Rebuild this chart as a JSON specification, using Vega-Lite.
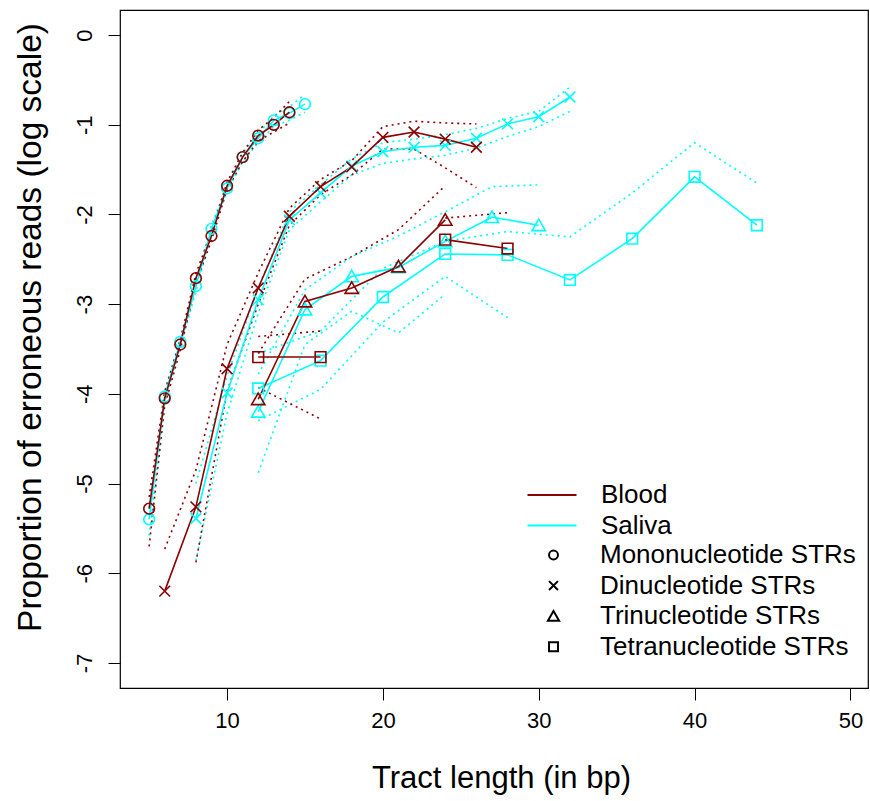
{
  "$schema": "https://vega.github.io/schema/vega-lite/v6.json",
  "width": 748,
  "height": 678,
  "autosize": {"type": "none"},
  "padding": {"left": 120, "top": 10, "right": 2, "bottom": 113},
  "background": "white",
  "data": {"values": [
    {"s":"Saliva","t":"Mononucleotide STRs","g":"a","x":5,"y":-5.40,"lo":-5.58,"hi":-5.28},
    {"s":"Saliva","t":"Mononucleotide STRs","g":"a","x":6,"y":-4.03,"lo":-4.10,"hi":-3.97},
    {"s":"Saliva","t":"Mononucleotide STRs","g":"a","x":7,"y":-3.42,"lo":-3.48,"hi":-3.37},
    {"s":"Saliva","t":"Mononucleotide STRs","g":"a","x":8,"y":-2.80,"lo":-2.86,"hi":-2.75},
    {"s":"Saliva","t":"Mononucleotide STRs","g":"a","x":9,"y":-2.16,"lo":-2.21,"hi":-2.12},
    {"s":"Saliva","t":"Mononucleotide STRs","g":"a","x":10,"y":-1.71,"lo":-1.75,"hi":-1.67},
    {"s":"Saliva","t":"Mononucleotide STRs","g":"a","x":11,"y":-1.36,"lo":-1.41,"hi":-1.32},
    {"s":"Saliva","t":"Mononucleotide STRs","g":"a","x":12,"y":-1.15,"lo":-1.20,"hi":-1.10},
    {"s":"Saliva","t":"Mononucleotide STRs","g":"a","x":13,"y":-0.95,"lo":-1.02,"hi":-0.90},
    {"s":"Saliva","t":"Mononucleotide STRs","g":"a","x":14,"y":-0.87,"lo":-0.95,"hi":-0.80},
    {"s":"Saliva","t":"Mononucleotide STRs","g":"a","x":15,"y":-0.77,"lo":-0.86,"hi":-0.66},
    {"s":"Saliva","t":"Dinucleotide STRs","g":"a","x":8,"y":-5.39,"lo":-5.86,"hi":-5.00},
    {"s":"Saliva","t":"Dinucleotide STRs","g":"a","x":10,"y":-3.99,"lo":-4.22,"hi":-3.80},
    {"s":"Saliva","t":"Dinucleotide STRs","g":"a","x":12,"y":-2.95,"lo":-3.10,"hi":-2.82},
    {"s":"Saliva","t":"Dinucleotide STRs","g":"a","x":14,"y":-2.06,"lo":-2.17,"hi":-1.97},
    {"s":"Saliva","t":"Dinucleotide STRs","g":"a","x":16,"y":-1.76,"lo":-1.86,"hi":-1.67},
    {"s":"Saliva","t":"Dinucleotide STRs","g":"a","x":18,"y":-1.46,"lo":-1.56,"hi":-1.38},
    {"s":"Saliva","t":"Dinucleotide STRs","g":"a","x":20,"y":-1.30,"lo":-1.43,"hi":-1.20},
    {"s":"Saliva","t":"Dinucleotide STRs","g":"a","x":22,"y":-1.25,"lo":-1.38,"hi":-1.16},
    {"s":"Saliva","t":"Dinucleotide STRs","g":"a","x":24,"y":-1.23,"lo":-1.34,"hi":-1.11},
    {"s":"Saliva","t":"Dinucleotide STRs","g":"a","x":26,"y":-1.15,"lo":-1.26,"hi":-1.04},
    {"s":"Saliva","t":"Dinucleotide STRs","g":"a","x":28,"y":-0.99,"lo":-1.13,"hi":-0.93},
    {"s":"Saliva","t":"Dinucleotide STRs","g":"a","x":30,"y":-0.91,"lo":-1.02,"hi":-0.85},
    {"s":"Saliva","t":"Dinucleotide STRs","g":"a","x":32,"y":-0.69,"lo":-0.85,"hi":-0.58},
    {"s":"Saliva","t":"Trinucleotide STRs","g":"a","x":12,"y":-4.20,"lo":-4.88,"hi":-3.78},
    {"s":"Saliva","t":"Trinucleotide STRs","g":"a","x":15,"y":-3.06,"lo":-3.45,"hi":-2.84},
    {"s":"Saliva","t":"Trinucleotide STRs","g":"a","x":18,"y":-2.69,"lo":-3.08,"hi":-2.47},
    {"s":"Saliva","t":"Trinucleotide STRs","g":"a","x":21,"y":-2.59,"lo":-3.32,"hi":-2.24},
    {"s":"Saliva","t":"Trinucleotide STRs","g":"a","x":24,"y":-2.30,"lo":-2.89,"hi":-1.97},
    {"s":"Saliva","t":"Trinucleotide STRs","g":"a","x":27,"y":-2.03,"lo":null,"hi":-1.69},
    {"s":"Saliva","t":"Trinucleotide STRs","g":"a","x":30,"y":-2.12,"lo":null,"hi":-1.67},
    {"s":"Saliva","t":"Tetranucleotide STRs","g":"a","x":12,"y":-3.94,"lo":-4.30,"hi":-3.55},
    {"s":"Saliva","t":"Tetranucleotide STRs","g":"a","x":16,"y":-3.63,"lo":-3.95,"hi":-3.30},
    {"s":"Saliva","t":"Tetranucleotide STRs","g":"a","x":20,"y":-2.92,"lo":-3.20,"hi":-2.60},
    {"s":"Saliva","t":"Tetranucleotide STRs","g":"a","x":24,"y":-2.44,"lo":-2.69,"hi":-2.30},
    {"s":"Saliva","t":"Tetranucleotide STRs","g":"a","x":28,"y":-2.45,"lo":-3.15,"hi":-2.19},
    {"s":"Saliva","t":"Tetranucleotide STRs","g":"a","x":32,"y":-2.73,"lo":null,"hi":-2.25},
    {"s":"Saliva","t":"Tetranucleotide STRs","g":"a","x":36,"y":-2.27,"lo":null,"hi":-1.76},
    {"s":"Saliva","t":"Tetranucleotide STRs","g":"a","x":40,"y":-1.58,"lo":null,"hi":-1.20},
    {"s":"Saliva","t":"Tetranucleotide STRs","g":"a","x":44,"y":-2.12,"lo":null,"hi":-1.65},
    {"s":"Blood","t":"Mononucleotide STRs","g":"a","x":5,"y":-5.28,"lo":-5.70,"hi":-5.15},
    {"s":"Blood","t":"Mononucleotide STRs","g":"a","x":6,"y":-4.05,"lo":-4.13,"hi":-3.98},
    {"s":"Blood","t":"Mononucleotide STRs","g":"a","x":7,"y":-3.45,"lo":-3.51,"hi":-3.40},
    {"s":"Blood","t":"Mononucleotide STRs","g":"a","x":8,"y":-2.71,"lo":-2.77,"hi":-2.66},
    {"s":"Blood","t":"Mononucleotide STRs","g":"a","x":9,"y":-2.24,"lo":-2.29,"hi":-2.19},
    {"s":"Blood","t":"Mononucleotide STRs","g":"a","x":10,"y":-1.68,"lo":-1.72,"hi":-1.64},
    {"s":"Blood","t":"Mononucleotide STRs","g":"a","x":11,"y":-1.36,"lo":-1.41,"hi":-1.31},
    {"s":"Blood","t":"Mononucleotide STRs","g":"a","x":12,"y":-1.12,"lo":-1.18,"hi":-1.06},
    {"s":"Blood","t":"Mononucleotide STRs","g":"a","x":13,"y":-1.00,"lo":-1.08,"hi":-0.92},
    {"s":"Blood","t":"Mononucleotide STRs","g":"a","x":14,"y":-0.86,"lo":-0.98,"hi":-0.74},
    {"s":"Blood","t":"Dinucleotide STRs","g":"a","x":6,"y":-6.20,"lo":null,"hi":-5.73},
    {"s":"Blood","t":"Dinucleotide STRs","g":"a","x":8,"y":-5.26,"lo":-5.88,"hi":-4.85},
    {"s":"Blood","t":"Dinucleotide STRs","g":"a","x":10,"y":-3.72,"lo":-3.97,"hi":-3.45},
    {"s":"Blood","t":"Dinucleotide STRs","g":"a","x":12,"y":-2.82,"lo":-3.00,"hi":-2.65},
    {"s":"Blood","t":"Dinucleotide STRs","g":"a","x":14,"y":-2.02,"lo":-2.12,"hi":-1.93},
    {"s":"Blood","t":"Dinucleotide STRs","g":"a","x":16,"y":-1.69,"lo":-1.78,"hi":-1.61},
    {"s":"Blood","t":"Dinucleotide STRs","g":"a","x":18,"y":-1.47,"lo":-1.56,"hi":-1.40},
    {"s":"Blood","t":"Dinucleotide STRs","g":"a","x":20,"y":-1.14,"lo":-1.27,"hi":-1.02},
    {"s":"Blood","t":"Dinucleotide STRs","g":"a","x":22,"y":-1.08,"lo":-1.27,"hi":-0.96},
    {"s":"Blood","t":"Dinucleotide STRs","g":"a","x":24,"y":-1.16,"lo":-1.48,"hi":-0.98},
    {"s":"Blood","t":"Dinucleotide STRs","g":"a","x":26,"y":-1.25,"lo":-1.70,"hi":-0.99},
    {"s":"Blood","t":"Trinucleotide STRs","g":"a","x":12,"y":-4.06,"lo":null,"hi":-3.55},
    {"s":"Blood","t":"Trinucleotide STRs","g":"a","x":15,"y":-2.97,"lo":null,"hi":-2.72},
    {"s":"Blood","t":"Trinucleotide STRs","g":"a","x":18,"y":-2.82,"lo":null,"hi":-2.47},
    {"s":"Blood","t":"Trinucleotide STRs","g":"a","x":21,"y":-2.58,"lo":null,"hi":-2.17},
    {"s":"Blood","t":"Trinucleotide STRs","g":"a","x":24,"y":-2.06,"lo":null,"hi":-1.68},
    {"s":"Blood","t":"Tetranucleotide STRs","g":"a","x":12,"y":-3.59,"lo":-3.93,"hi":-3.36},
    {"s":"Blood","t":"Tetranucleotide STRs","g":"a","x":16,"y":-3.59,"lo":-4.28,"hi":-3.30},
    {"s":"Blood","t":"Tetranucleotide STRs","g":"b","x":24,"y":-2.28,"lo":null,"hi":-2.04},
    {"s":"Blood","t":"Tetranucleotide STRs","g":"b","x":28,"y":-2.38,"lo":null,"hi":-1.98}
  ]},
  "encoding": {
    "x": {
      "field": "x", "type": "quantitative",
      "title": "Tract length (in bp)",
      "scale": {"domain": [3.13, 51.13], "nice": false, "zero": false},
      "axis": {"values": [10, 20, 30, 40, 50], "labelPadding": 10, "labelFontSize": 22, "titleFontSize": 31, "titleX": 381, "titleY": 90, "titleBaseline": "middle", "titleAlign": "center", "labelFlush": false, "labelOverlap": false}
    },
    "color": {
      "field": "s", "type": "nominal",
      "scale": {"domain": ["Blood", "Saliva"], "range": ["#8B0000", "#00FFFF"]},
      "legend": {"orient": "none", "legendX": 419, "legendY": 472, "title": null, "padding": 0, "symbolType": "M-4.9,0H4.9", "symbolSize": 100, "symbolStrokeWidth": 2, "symbolFillColor": "transparent", "labelFontSize": 26, "labelFont": "Liberation Sans", "labelColor": "#000", "labelOffset": 36, "labelLimit": 0, "rowPadding": 4.6}
    }
  },
  "layer": [
    {
      "transform": [{"filter": "isValid(datum.lo)"}],
      "mark": {"type": "line", "strokeWidth": 1.6, "strokeDash": [2, 4]},
      "encoding": {
        "y": {"field": "lo", "type": "quantitative", "title": "Proportion of erroneous reads (log scale)", "scale": {"domain": [-7.28, 0.28], "nice": false, "zero": false}, "axis": {"values": [-7, -6, -5, -4, -3, -2, -1, 0]}},
        "detail": [{"field": "t"}, {"field": "g"}]
      }
    },
    {
      "transform": [{"filter": "isValid(datum.hi)"}],
      "mark": {"type": "line", "strokeWidth": 1.6, "strokeDash": [2, 4]},
      "encoding": {
        "y": {"field": "hi", "type": "quantitative", "title": "Proportion of erroneous reads (log scale)", "scale": {"domain": [-7.28, 0.28], "nice": false, "zero": false}, "axis": {"values": [-7, -6, -5, -4, -3, -2, -1, 0]}},
        "detail": [{"field": "t"}, {"field": "g"}]
      }
    },
    {
      "mark": {"type": "line", "strokeWidth": 1.6},
      "encoding": {
        "y": {"field": "y", "type": "quantitative", "title": "Proportion of erroneous reads (log scale)", "scale": {"domain": [-7.28, 0.28], "nice": false, "zero": false}, "axis": {"values": [-7, -6, -5, -4, -3, -2, -1, 0]}},
        "detail": [{"field": "t"}, {"field": "g"}]
      }
    },
    {
      "mark": {"type": "point", "filled": false, "size": 115, "strokeWidth": 1.6, "opacity": 1},
      "encoding": {
        "y": {"field": "y", "type": "quantitative", "title": "Proportion of erroneous reads (log scale)", "scale": {"domain": [-7.28, 0.28], "nice": false, "zero": false}, "axis": {"values": [-7, -6, -5, -4, -3, -2, -1, 0]}},
        "shape": {
          "field": "t", "type": "nominal",
          "scale": {"domain": ["Mononucleotide STRs", "Dinucleotide STRs", "Trinucleotide STRs", "Tetranucleotide STRs"], "range": ["circle", "M-1,-1L1,1M1,-1L-1,1", "M0,-1.15L1.25,1L-1.25,1Z", "square"]},
          "legend": {"orient": "none", "legendX": 420.5, "legendY": 532, "title": null, "padding": 0, "symbolSize": 80, "symbolStrokeColor": "#000", "symbolFillColor": "transparent", "symbolStrokeWidth": 2, "labelFontSize": 26, "labelFont": "Liberation Sans", "labelColor": "#000", "labelOffset": 33.5, "labelLimit": 0, "rowPadding": 4.6}
        }
      }
    }
  ],
  "config": {
    "font": "Liberation Sans",
    "view": {"stroke": "#000", "strokeWidth": 1.2},
    "axis": {"domain": false, "grid": false, "tickColor": "#000", "tickSize": 12, "tickWidth": 1, "labelColor": "#000", "titleColor": "#000", "labelFont": "Liberation Sans", "titleFont": "Liberation Sans", "titleFontWeight": "normal"},
    "axisY": {"labelAngle": -90, "labelAlign": "center", "labelBaseline": "bottom", "labelPadding": 12, "labelFontSize": 22, "labelExpr": "datum.value == 0 ? '0' : '-' + abs(datum.value)", "titleX": -90, "titleY": 317, "titleAngle": -90, "titleAlign": "center", "titleBaseline": "middle", "titleFontSize": 33.5, "labelOverlap": false}
  }
}
